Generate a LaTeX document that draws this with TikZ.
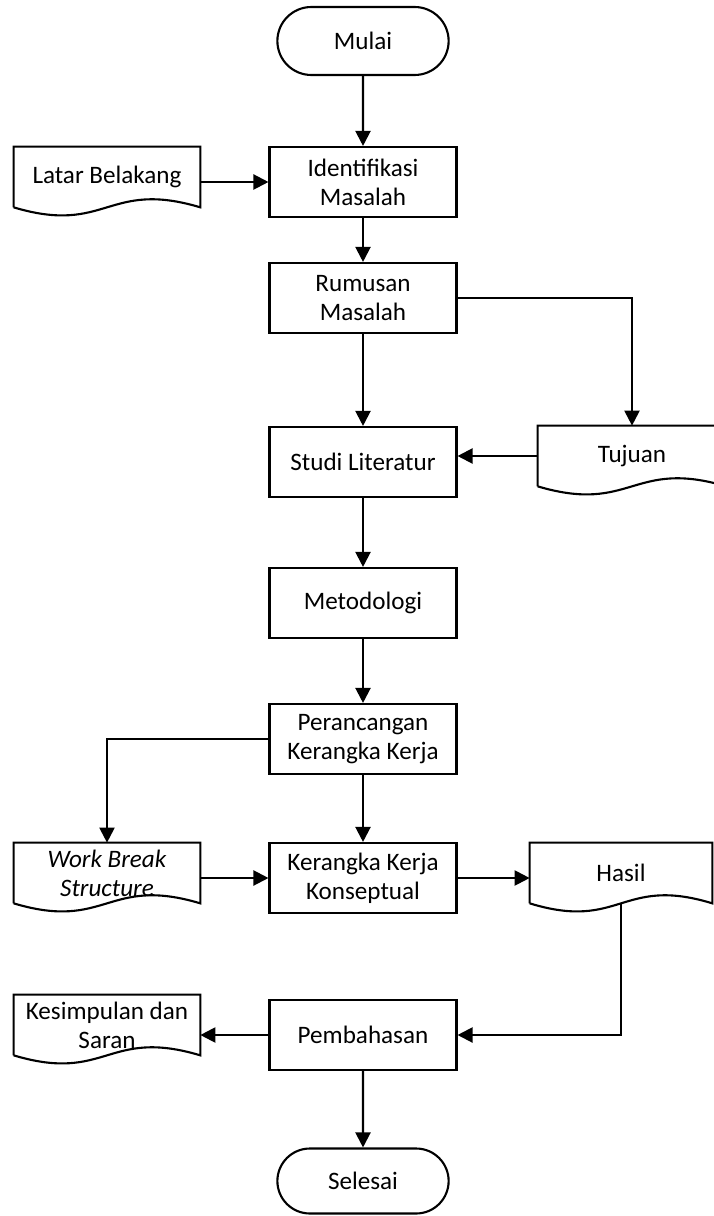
\documentclass[tikz,border=0pt]{standalone}
\usepackage{fontspec}
\setmainfont{Carlito}
\usetikzlibrary{arrows.meta,shapes.misc}

\tikzset{
  proc/.style={shape=rectangle,draw=black,line width=1.2pt,minimum width=3.74cm,minimum height=1.4cm,align=center,inner sep=2pt,font=\fontsize{14.3}{16.5}\selectfont},
  term/.style={shape=rounded rectangle,draw=black,line width=1.2pt,minimum width=3.66cm,minimum height=1.36cm,font=\fontsize{14.3}{16.5}\selectfont},
  docu/.style={shape=rectangle,minimum width=3.72cm,minimum height=1.2cm,align=center,inner sep=1pt,font=\fontsize{14.3}{16.5}\selectfont},
  flow/.style={line width=1.2pt,-{Triangle[length=0.3cm,width=0.3cm]}},
}

\begin{document}
\begin{tikzpicture}[x=0.02cm,y=-0.02cm]

        \useasboundingbox (0,0) rectangle (713,1216);

        \node[term] (mulai) at (363,41) {Mulai};
        \node[proc] (ident) at (363,182) {Identifikasi\\Masalah};
        \node[docu] (latar) at (107,177) {Latar Belakang};
        \node[proc] (rumus) at (363,298) {Rumusan\\Masalah};
        \node[proc] (studi) at (363,462) {Studi Literatur};
        \node[docu,minimum width=3.76cm] (tujuan) at (632,456) {Tujuan};
        \node[proc] (metod) at (363,603) {Metodologi};
        \node[proc] (ranc) at (363,739) {Perancangan\\Kerangka Kerja};
        \node[docu] (wbs) at (107,873) {\itshape Work Break\\\itshape Structure};
        \node[proc] (kkk) at (363,878) {Kerangka Kerja\\Konseptual};
        \node[docu,minimum width=3.64cm] (hasil) at (621,873) {Hasil};
        \node[proc] (bahas) at (363,1035) {Pembahasan};
        \node[docu] (simpul) at (107,1025) {Kesimpulan dan\\Saran};
        \node[term,minimum height=1.3cm] (selesai) at (363,1181) {Selesai};

        % document outlines with wavy bottom
        \foreach \n in {latar,tujuan,wbs,hasil,simpul}
            \draw[line width=1.2pt] (\n.south west) -- (\n.north west) -- (\n.north east) -- (\n.south east)
                .. controls ([yshift=0.56cm]\n.south) and ([yshift=-0.56cm]\n.south) .. (\n.south west);

        \draw[flow] (mulai) -- (ident);
        \draw[flow] (ident.west -| latar.east) -- (ident.west);
        \draw[flow] (ident) -- (rumus);
        \draw[flow] (rumus) -- (studi);
        \draw[flow] (rumus.east) -| (tujuan.north);
        \draw[flow] (tujuan.west) -- (tujuan.west -| studi.east);
        \draw[flow] (studi) -- (metod);
        \draw[flow] (metod) -- (ranc);
        \draw[flow] (ranc.west) -| (wbs.north);
        \draw[flow] (ranc) -- (kkk);
        \draw[flow] (kkk.west -| wbs.east) -- (kkk.west);
        \draw[flow] (kkk.east) -- (kkk.east -| hasil.west);
        \draw[flow] (hasil.south) |- (bahas.east);
        \draw[flow] (bahas.west) -- (bahas.west -| simpul.east);
        \draw[flow] (bahas) -- (selesai);

\end{tikzpicture}
\end{document}
